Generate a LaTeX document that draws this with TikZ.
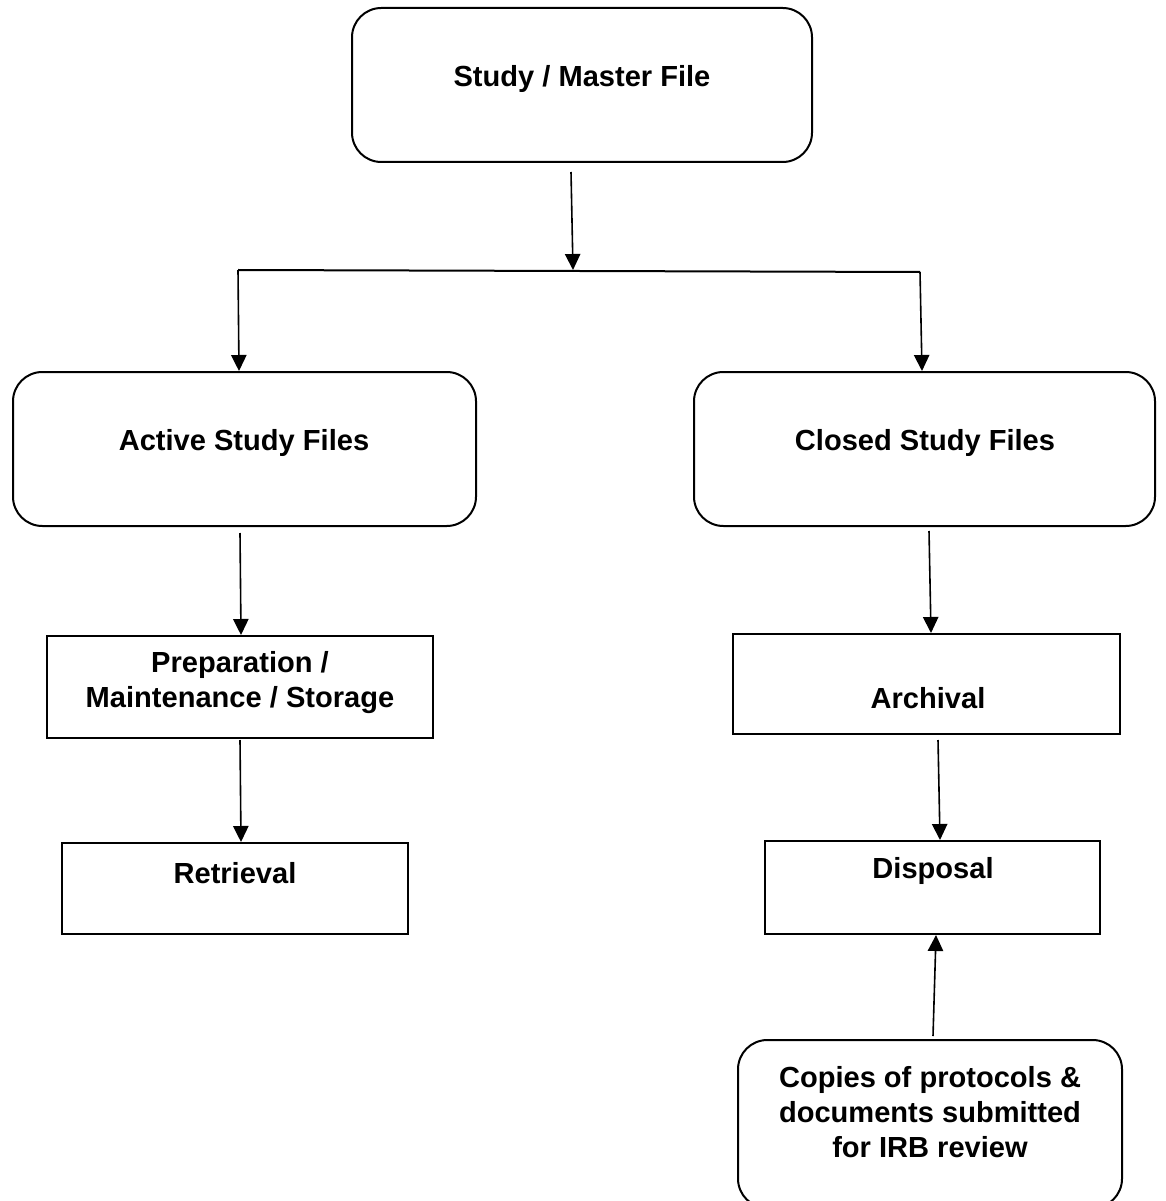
\documentclass[tikz,border=0pt]{standalone}
\usepackage{fontspec}
\setmainfont{Liberation Sans}
\usetikzlibrary{arrows.meta}
\begin{document}
\begin{tikzpicture}[x=0.75pt,y=-0.75pt,
  roundbox/.style={draw,line width=1.5pt,rounded corners=22pt,inner sep=0pt},
  plainbox/.style={draw,line width=1.5pt,inner sep=0pt},
  lbl/.style={font=\fontsize{21.8}{26.3}\selectfont\bfseries,align=center,inner sep=0pt},
  arr/.style={line width=1.2pt,-{Triangle[width=11.5pt,length=12pt]}},
  bus/.style={line width=1.5pt}]
\useasboundingbox (0,0) rectangle (1165,1201);

% boxes
\node[roundbox,minimum width=460*0.75pt,minimum height=154*0.75pt] (master) at (582,85) {};
\node[roundbox,minimum width=463*0.75pt,minimum height=154*0.75pt] (active) at (244.5,449) {};
\node[roundbox,minimum width=461*0.75pt,minimum height=154*0.75pt] (closed) at (924.5,449) {};
\node[plainbox,minimum width=386*0.75pt,minimum height=102*0.75pt] (prep) at (240,687) {};
\node[plainbox,minimum width=346*0.75pt,minimum height=91*0.75pt] (retr) at (235,888.5) {};
\node[plainbox,minimum width=387*0.75pt,minimum height=100*0.75pt] (arch) at (926.5,684) {};
\node[plainbox,minimum width=335*0.75pt,minimum height=93*0.75pt] (disp) at (932.5,887.5) {};
\node[roundbox,minimum width=384*0.75pt,minimum height=168*0.75pt] (irb) at (930,1124) {};

% labels
\node[lbl] (tmaster) at (582,79) {Study / Master File};
\node[lbl] (tactive) at (244,443) {Active Study Files};
\node[lbl] (tclosed) at (925,443) {Closed Study Files};
\node[lbl] (tprep) at (240,683) {Preparation /\\Maintenance / Storage};
\node[lbl] (tretr) at (235,873) {Retrieval};
\node[lbl] (tarch) at (928,698) {Archival};
\node[lbl] (tdisp) at (933,871) {Disposal};
\node[lbl] (tirb) at (930,1112) {Copies of protocols \&\\documents submitted\\for IRB review};

% connector end points
\coordinate (mOut) at (571,172);
\coordinate (busMid) at (573,270);
\coordinate (busL) at (238,270);
\coordinate (busR) at (920,272);
\coordinate (aOut) at (240,533);
\coordinate (pOut) at (240,740);
\coordinate (cOut) at (929,531);
\coordinate (arOut) at (938,740);
\coordinate (iOut) at (933,1036);

% connectors
\draw[bus] (busL) -- (busR);
\draw[arr] (mOut) -- (busMid);
\draw[arr] (busL) -- (active.north -| 239,0);
\draw[arr] (busR) -- (closed.north -| 922,0);
\draw[arr] (aOut) -- (prep.north -| 241,0);
\draw[arr] (pOut) -- (retr.north -| 241,0);
\draw[arr] (cOut) -- (arch.north -| 931,0);
\draw[arr] (arOut) -- (disp.north -| 940,0);
\draw[arr] (iOut) -- (disp.south -| 936,0);
\end{tikzpicture}
\end{document}
